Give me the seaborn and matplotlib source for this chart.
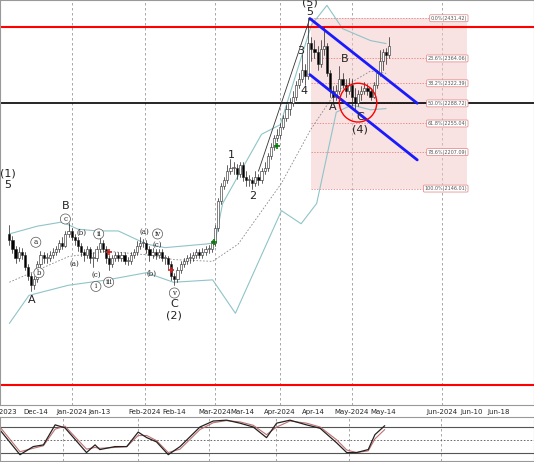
import matplotlib.pyplot as plt
import matplotlib.patches as mpatches
import numpy as np
import seaborn as sb

# daily candles, bar index 0 = late Nov 2023
closes = [2060, 2045, 2030, 2040, 2035, 2015, 2000, 1985, 1995, 2020,
          2035, 2030, 2030, 2035, 2040, 2045, 2055, 2050, 2070, 2075,
          2065, 2060, 2050, 2040, 2035, 2045, 2030, 2030, 2045, 2055,
          2045, 2030, 2020, 2030, 2035, 2030, 2035, 2025, 2025, 2035,
          2040, 2050, 2055, 2055, 2045, 2035, 2040, 2035, 2040, 2030,
          2030, 2020, 2000, 1995, 2010, 2020, 2025, 2030, 2030, 2035,
          2040, 2035, 2040, 2045, 2045, 2055, 2080, 2125, 2150, 2160,
          2175, 2180, 2180, 2170, 2185, 2165, 2160, 2160, 2155, 2165,
          2160, 2175, 2180, 2200, 2215, 2230, 2235, 2250, 2265, 2280,
          2290, 2300, 2320, 2330, 2345, 2335, 2390, 2380, 2375, 2355,
          2380, 2385, 2340, 2310, 2300, 2310, 2330, 2320, 2310, 2320,
          2300, 2290, 2305, 2310, 2315, 2310, 2300, 2320, 2340, 2360,
          2375, 2370, 2385]
highs = [2085, 2066, 2050, 2048, 2046, 2040, 2020, 2005, 2000, 2025,
         2042, 2040, 2038, 2042, 2046, 2050, 2060, 2065, 2075, 2088,
         2080, 2070, 2065, 2055, 2045, 2050, 2048, 2040, 2050, 2065,
         2060, 2050, 2035, 2035, 2040, 2040, 2040, 2040, 2032, 2040,
         2045, 2058, 2065, 2062, 2060, 2050, 2046, 2045, 2045, 2045,
         2035, 2033, 2025, 2005, 2015, 2025, 2030, 2035, 2038, 2040,
         2045, 2045, 2046, 2050, 2052, 2060, 2085, 2130, 2155, 2165,
         2185, 2195, 2190, 2188, 2190, 2190, 2175, 2168, 2165, 2175,
         2170, 2180, 2190, 2205, 2222, 2236, 2245, 2256, 2270, 2286,
         2298, 2310, 2326, 2340, 2372, 2355, 2431, 2400, 2395, 2385,
         2395, 2417, 2390, 2345, 2318, 2320, 2352, 2340, 2330, 2332,
         2330, 2315, 2312, 2318, 2325, 2322, 2315, 2325, 2345, 2378,
         2380, 2382, 2400]
lows = [2052, 2038, 2022, 2025, 2028, 2010, 1992, 1975, 1978, 1990,
        2015, 2022, 2022, 2025, 2030, 2035, 2040, 2045, 2048, 2065,
        2060, 2052, 2042, 2033, 2025, 2030, 2022, 2015, 2025, 2040,
        2040, 2022, 2010, 2015, 2025, 2025, 2025, 2020, 2018, 2020,
        2030, 2035, 2045, 2048, 2038, 2025, 2030, 2028, 2030, 2025,
        2020, 2012, 1992, 1984, 1990, 2005, 2015, 2020, 2022, 2025,
        2030, 2030, 2030, 2035, 2038, 2040, 2050, 2075, 2120, 2145,
        2155, 2170, 2170, 2162, 2165, 2158, 2150, 2150, 2146, 2150,
        2152, 2155, 2170, 2175, 2195, 2210, 2225, 2230, 2245, 2260,
        2270, 2285, 2295, 2315, 2325, 2320, 2330, 2360, 2365, 2345,
        2350, 2370, 2335, 2300, 2291, 2295, 2305, 2315, 2300, 2305,
        2285, 2277, 2285, 2295, 2305, 2302, 2295, 2297, 2315, 2335,
        2345, 2355, 2365]
first_open = 2070

# bollinger bands (bar, price)
upper_x = [0, 9, 17, 22, 28, 35, 44, 50, 63, 66, 68.5, 81, 87, 97, 102, 107, 116, 121]
upper_y = [2070, 2083, 2090, 2078, 2075, 2075, 2053, 2047, 2053, 2055, 2121, 2237, 2253, 2420, 2453, 2414, 2394, 2389]
lower_x = [0, 6.3, 19, 31.5, 44, 52.7, 65.3, 72.6, 87.4, 93.7, 98.7, 105, 110, 116, 121]
lower_y = [1920, 1967, 1984, 1993, 2005, 1989, 1993, 1937, 2109, 2087, 2121, 2274, 2286, 2278, 2280]
mid_x = [0, 19, 31.5, 44, 52.7, 65.3, 73.5, 87.4, 96.8, 105, 116, 121]
mid_y = [1989, 2032, 2041, 2035, 2027, 2024, 2053, 2155, 2245, 2309, 2343, 2339]

fib_pct = ['0.0%', '23.6%', '38.2%', '50.0%', '61.8%', '78.6%', '100.0%']
fib_val = [2431.42, 2364.06, 2322.39, 2288.72, 2255.04, 2207.09, 2146.01]

tick_pos = [-3, 8.5, 20, 29, 43.5, 53, 66, 75, 87, 97.5, 110, 120, 139, 148.5, 157]
tick_lab = ['Dec-2023', 'Dec-14', 'Jan-2024', 'Jan-13', 'Feb-2024', 'Feb-14', 'Mar-2024',
            'Mar-14', 'Apr-2024', 'Apr-14', 'May-2024', 'May-14', 'Jun-2024', 'Jun-10', 'Jun-18']
month_lines = [20, 43.5, 66, 87, 110, 139]

stoch_x = [0, 6.3, 10.5, 13.7, 17.4, 20.5, 27.3, 30, 31.5, 36.3, 40, 43.6, 46.3, 49.4, 53.1, 56.8,
           63.1, 67.3, 71.5, 75.7, 79.9, 84.1, 87.3, 91.5, 96.7, 101, 106.2, 109.4, 112.5, 116.2, 118.3, 121.4]
stoch_k = [73, 15, 34, 38, 85, 78, 20, 38, 27, 34, 34, 68, 55, 45, 15, 34,
           80, 94, 96, 89, 80, 55, 89, 96, 85, 77, 43, 20, 20, 27, 62, 83]
stoch_d = [80, 22, 30, 36, 75, 82, 28, 32, 30, 32, 34, 60, 60, 48, 20, 28,
           74, 90, 95, 92, 84, 62, 80, 94, 89, 80, 50, 26, 20, 24, 52, 74]

waves = [('(5)', 96.5, 2457, 8), ('5', 96.5, 2442, 8), ('3', 93.7, 2377, 8), ('4', 94.6, 2309, 8),
         ('B', 107.6, 2363, 8), ('A', 104, 2283, 8), ('C', 112.6, 2266, 8), ('(4)', 112.6, 2245, 8),
         ('1', 71.3, 2203, 8), ('2', 78, 2134, 8), ('(1)', -0.5, 2172, 8), ('5', -0.5, 2152, 8),
         ('A', 7.3, 1960, 8), ('B', 18, 2116, 8), ('C', 53, 1953, 8), ('(2)', 53, 1933, 8)]
subwaves = [('c', 18, 2095, True), ('a', 8.5, 2056, True), ('b', 9.5, 2005, True),
            ('(a)', 21, 2020, False), ('(b)', 23.3, 2071, False), ('ii', 28.7, 2070, True),
            ('(c)', 27.8, 2001, False), ('i', 27.8, 1982, True), ('iii', 31.9, 1989, True),
            ('(a)', 43.5, 2073, False), ('iv', 47.6, 2070, True), ('(c)', 47.6, 2051, False),
            ('(b)', 45.7, 2003, False), ('v', 53, 1971, True)]

sb.set_style("white")
fig = plt.figure(figsize=(5.34, 4.62), dpi=100)
ax = fig.add_axes([0, 0.123, 1, 0.877])
ax2 = fig.add_axes([0, 0.002, 1, 0.095])

# month grid
for m in month_lines:
    ax.axvline(m, color='#999999', ls=(0, (3, 3)), lw=0.6, zorder=0)
    ax2.axvline(m, color='#999999', ls=(0, (3, 3)), lw=0.6, zorder=0)

# fib box
ax.add_patch(mpatches.Rectangle((96.8, fib_val[-1]), 147 - 96.8, fib_val[0] - fib_val[-1],
                                color='#f4c6c6', alpha=0.5, lw=0, zorder=0.5))
for p, v in zip(fib_pct, fib_val):
    ax.plot([96.8, 147], [v, v], color='#e07070', ls=(0, (2, 2)), lw=0.5, zorder=1)
    ax.text(147, v, '%s(%.2f)' % (p, v), fontsize=3.5, ha='right', va='center', color='#555555',
            bbox=dict(boxstyle='round,pad=0.2', fc='white', ec='#e08080', lw=0.5), zorder=5)

ax.axhline(2416, color='red', lw=1.5, zorder=2)
ax.axhline(1817, color='red', lw=1.5, zorder=2)
ax.axhline(2288.72, color='black', lw=1.2, zorder=2)

sb.lineplot(x=upper_x, y=upper_y, ax=ax, color='#8fc4c8', lw=0.8, zorder=1)
sb.lineplot(x=lower_x, y=lower_y, ax=ax, color='#8fc4c8', lw=0.8, zorder=1)
ax.plot(mid_x, mid_y, color='#888888', ls=(0, (2, 2)), lw=0.6, zorder=1)

# candles
opens = [first_open] + closes[:-1]
for i, (o, h, l, c) in enumerate(zip(opens, highs, lows, closes)):
    ax.plot([i, i], [l, h], color='#222222', lw=0.5, zorder=3)
    fc = 'white' if c >= o else 'black'
    ax.add_patch(mpatches.Rectangle((i - 0.35, min(o, c)), 0.7, max(abs(c - o), 1.5),
                                    fc=fc, ec='#222222', lw=0.4, zorder=4))

# channel and wave line
ax.plot([96.5, 131], [2431, 2289], color='#1a1aff', lw=2, zorder=5)
ax.plot([96.5, 131], [2337, 2194], color='#1a1aff', lw=2, zorder=5)
ax.plot([80, 96.5], [2175, 2431], color='#333333', lw=0.6, zorder=5)
ax.add_patch(mpatches.Ellipse((112, 2290), 12, 65, fill=False, ec='red', lw=1, zorder=6))

ax.plot([65.7, 86], [2056, 2218], '+', color='green', ms=4, mew=1.2, zorder=6)
ax.plot([31.9, 52], [2040, 2010], '+', color='#cc2222', ms=4, mew=1.2, zorder=6)

for t, x, y, fs in waves:
    ax.text(x, y, t, fontsize=fs, ha='center', va='center', color='#222222', zorder=7)
for t, x, y, circ in subwaves:
    kw = dict(bbox=dict(boxstyle='circle,pad=0.15', fc='white', ec='#555555', lw=0.5)) if circ else {}
    ax.text(x, y, t, fontsize=5, ha='center', va='center', color='#222222', family='serif', zorder=7, **kw)

ax.set_xlim(0, 168.5)
ax.set_ylim(1783, 2462)
ax.set_yticks([])
ax.set_xticks(tick_pos)
ax.set_xticklabels(tick_lab, fontsize=5)
ax.tick_params(axis='x', length=2, pad=1)
for s in ax.spines.values():
    s.set_color('#999999')
    s.set_linewidth(0.8)

ax2.axhline(80, color='#555555', lw=0.8)
ax2.axhline(20, color='#555555', lw=0.8)
ax2.axhline(50, color='#555555', lw=0.6, ls=(0, (2, 2)))
ax2.plot(stoch_x, stoch_d, color='#c07070', lw=0.8)
ax2.plot(stoch_x, stoch_k, color='#222222', lw=0.9)
ax2.set_xlim(0, 168.5)
ax2.set_ylim(0, 103)
ax2.set_xticks([])
ax2.set_yticks([])
for s in ax2.spines.values():
    s.set_color('#999999')

fig.savefig('out.png', dpi=100)
